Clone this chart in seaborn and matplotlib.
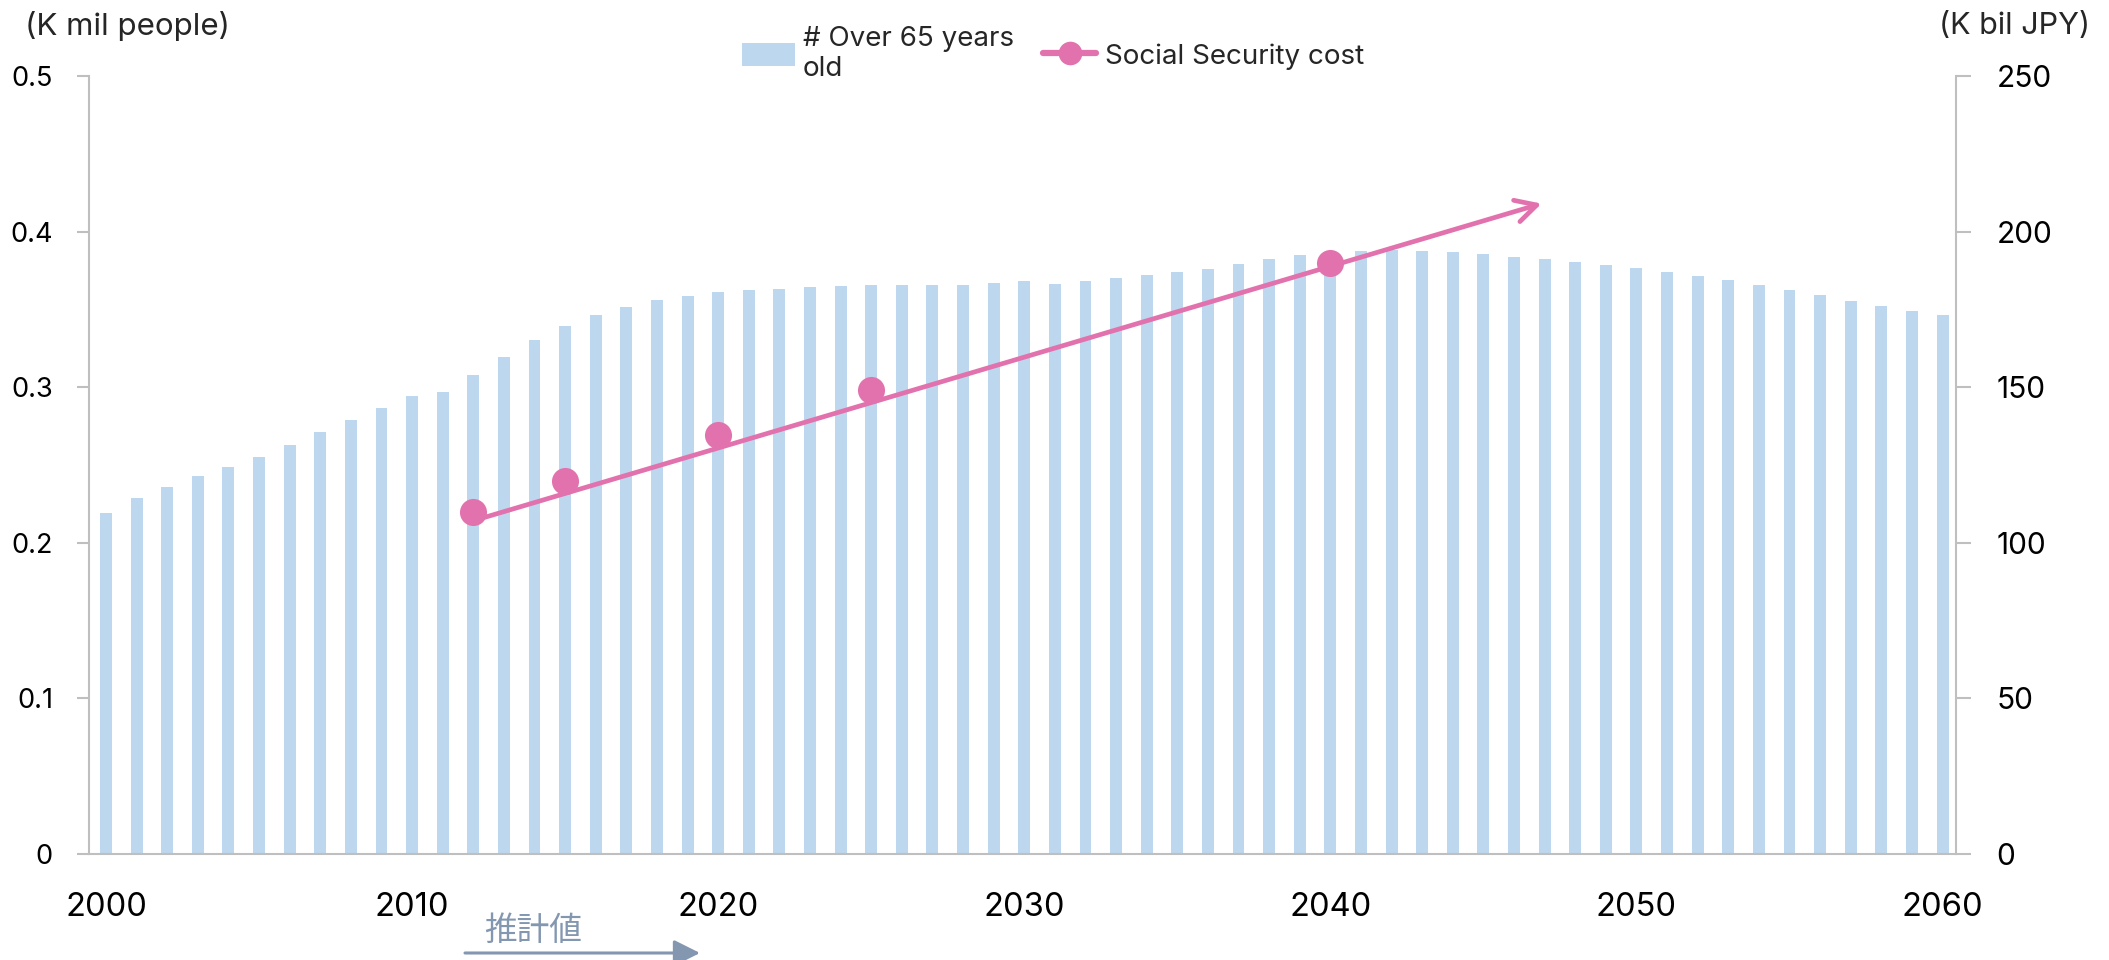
import matplotlib
matplotlib.use("Agg")
import matplotlib.pyplot as plt
from matplotlib.patches import Patch, FancyArrowPatch
from matplotlib.lines import Line2D
import seaborn as sns
import pandas as pd

# ---------------- data ----------------
years = list(range(2000, 2061))
over65 = [0.219, 0.2286, 0.2361, 0.2429, 0.2485, 0.2551, 0.2631, 0.2714, 0.2787, 0.2864,
          0.2945, 0.2972, 0.3080, 0.3192, 0.3305, 0.3393, 0.3462, 0.3515, 0.3558, 0.3588,
          0.3610, 0.3627, 0.3631, 0.3642, 0.3650, 0.3656, 0.3658, 0.3658, 0.3660, 0.3667,
          0.3683, 0.3665, 0.3683, 0.3700, 0.3719, 0.3740, 0.3761, 0.3791, 0.3821, 0.3847,
          0.3860, 0.3875, 0.3882, 0.3875, 0.3867, 0.3856, 0.3839, 0.3821, 0.3804, 0.3785,
          0.3766, 0.3742, 0.3714, 0.3689, 0.3657, 0.3625, 0.3590, 0.3556, 0.3523, 0.3491,
          0.3461]
ss_years = [2012, 2015, 2020, 2025, 2040]
ss_cost = [110, 120, 134.5, 149, 190]
trend_years = [2011.9, 2046.9]
trend_cost = [106.8, 209.0]

left_ticks = [0, 0.1, 0.2, 0.3, 0.4, 0.5]
left_labels = ["0", "0.1", "0.2", "0.3", "0.4", "0.5"]
right_ticks = [0, 50, 100, 150, 200, 250]
right_labels = ["0", "50", "100", "150", "200", "250"]
x_ticks = [2000, 2010, 2020, 2030, 2040, 2050, 2060]
x_labels = ["2000", "2010", "2020", "2030", "2040", "2050", "2060"]

bar_label = "# Over 65 years\nold"
line_label = "Social Security cost"
left_unit = "(K mil people)"
right_unit = "(K bil JPY)"
estimate_text = "推計値"

# ---------------- style ----------------
BLUE = "#BDD7EE"
PINK = "#E272AD"
GRAY = "#BFBFBF"
SLATE = "#8497B0"

sns.set_style("white")
plt.rcParams["font.family"] = ["Inter", "Noto Sans CJK JP", "DejaVu Sans"]

fig = plt.figure(figsize=(21.09, 9.6), dpi=100)
ax = fig.add_axes([89 / 2109, 1 - 854 / 960, (1956 - 89) / 2109, (854 - 76) / 960])

df = pd.DataFrame({"year": years, "over65": over65})
sns.barplot(data=df, x="year", y="over65", native_scale=True, width=0.39,
            color=BLUE, saturation=1, edgecolor="none", linewidth=0, ax=ax)

ax.set_xlim(1999.445, 2060.44)
ax.set_ylim(0, 0.5)
ax.set_xlabel("")
ax.set_ylabel("")
ax.set_xticks(x_ticks)
ax.set_xticklabels(x_labels, fontsize=23.5)
ax.set_yticks(left_ticks)
ax.set_yticklabels(left_labels, fontsize=19.5)
ax.tick_params(axis="x", length=0, pad=27, colors="black")
ax.tick_params(axis="y", length=9, width=1.5, color=GRAY, pad=17, labelcolor="black")
for s in ["top", "right"]:
    ax.spines[s].set_visible(False)
for s in ["left", "bottom"]:
    ax.spines[s].set_color(GRAY)
    ax.spines[s].set_linewidth(1.5)

ax2 = ax.twinx()
sns.scatterplot(x=ss_years, y=ss_cost, ax=ax2, s=380, color=PINK,
                edgecolor=PINK, linewidth=0, zorder=3, legend=False)
ax2.annotate("", xy=(trend_years[1], trend_cost[1]), xytext=(trend_years[0], trend_cost[0]),
             xycoords="data", textcoords="data",
             arrowprops=dict(arrowstyle="->,head_length=0.75,head_width=0.4",
                             color=PINK, lw=3.4, mutation_scale=20,
                             shrinkA=0, shrinkB=0, capstyle="round"),
             zorder=4)
ax2.set_ylim(0, 250)
ax2.set_yticks(right_ticks)
ax2.set_yticklabels(right_labels, fontsize=21.5)
ax2.set_ylabel("")
ax2.tick_params(axis="y", length=11, width=1.5, color=GRAY, pad=18, labelcolor="black")
for s in ["top", "left", "bottom"]:
    ax2.spines[s].set_visible(False)
ax2.spines["right"].set_color(GRAY)
ax2.spines["right"].set_linewidth(1.5)

# unit labels
fig.text(25 / 2109, 1 - 26 / 960, left_unit, fontsize=22.5, ha="left", va="center")
fig.text(2090 / 2109, 1 - 26 / 960, right_unit, fontsize=22, ha="right", va="center")

# legend
handles = [Patch(facecolor=BLUE, edgecolor="none"),
           Line2D([], [], color=PINK, lw=4.5, marker="o", markersize=17,
                  markeredgewidth=0, solid_capstyle="round")]
fig.legend(handles, [bar_label, line_label], loc="center left",
           bbox_to_anchor=(742 / 2109, 1 - 54 / 960), ncol=2, frameon=False,
           fontsize=20, handlelength=1.9, handleheight=0.9, handletextpad=0.3,
           columnspacing=1.05, borderpad=0, borderaxespad=0, labelspacing=0.2)
plt.rcParams["legend.fontsize"] = 20

fig.text(484 / 2109, 1 - 931 / 960, estimate_text, fontsize=23.5, color=SLATE,
         ha="left", va="center", family=["Noto Sans CJK JP", "DejaVu Sans"])
fig.add_artist(FancyArrowPatch(
    (465 / 2109, 1 - 953 / 960), (700 / 2109, 1 - 953 / 960),
    transform=fig.transFigure, arrowstyle="-|>,head_length=0.8,head_width=0.4",
    mutation_scale=20, color=SLATE, lw=2.2, shrinkA=0, shrinkB=0))

fig.savefig("out.png", dpi=100)
